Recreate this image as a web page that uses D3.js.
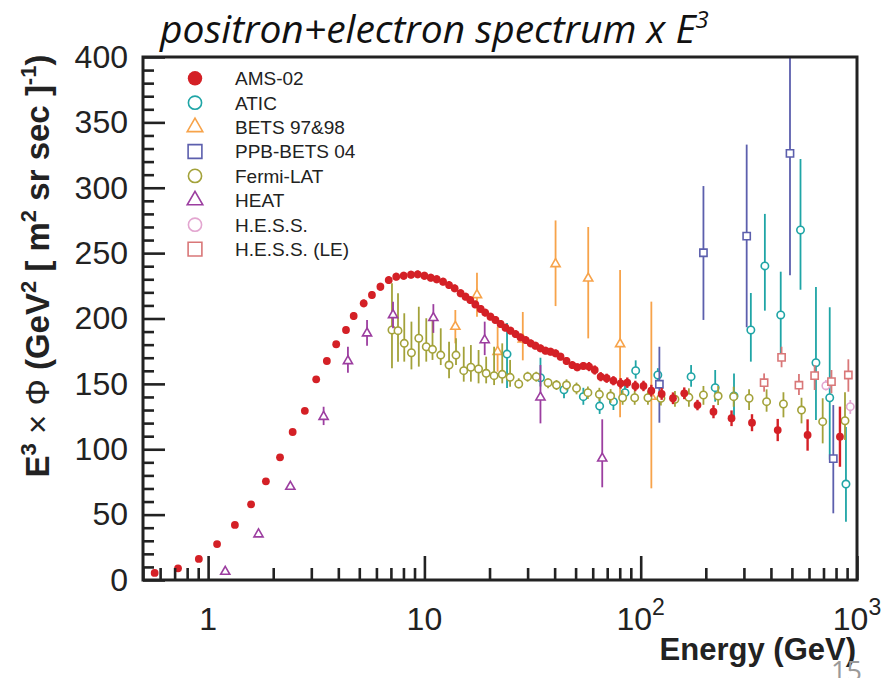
<!DOCTYPE html>
<html>
<head>
<meta charset="utf-8">
<script src="https://cdn.jsdelivr.net/npm/d3@7"></script>
<style>
  body { margin: 0; background: #fff; }
  text { font-family: "Liberation Sans", Arial, Helvetica, sans-serif; }
</style>
</head>
<body>
<svg id="chart" width="893" height="678"></svg>
<script>
// ---- data ----
// AMS-02: [energy, E^3 flux, error]
const amsData = [
  [0.566, 5.4, 0], [0.726, 8.9, 0], [0.906, 16.1, 0], [1.10, 27.5, 0], [1.33, 42.1, 0],
  [1.58, 57.9, 0], [1.85, 75.5, 1], [2.15, 93.8, 1], [2.46, 113.2, 1], [2.80, 129.4, 1.5],
  [3.16, 153.5, 2], [3.54, 167.5, 2], [3.91, 180.3, 2.5], [4.34, 191.2, 2.5], [4.71, 201.9, 3],
  [5.24, 211.6, 3], [5.72, 218, 3], [6.26, 224.3, 3], [6.84, 229.4, 3], [7.41, 232, 3],
  [8.02, 232.7, 3], [8.67, 233.5, 3], [9.31, 233.8, 3], [10.0, 232.7, 3], [10.7, 231.2, 3],
  [11.4, 230, 3], [12.2, 228.2, 3], [13.0, 225.6, 3], [13.8, 223.1, 3], [14.7, 219.3, 3],
  [15.5, 216.7, 3], [16.3, 214.1, 3], [17.2, 210.8, 3], [18.2, 207.3, 3], [19.1, 204.5, 3],
  [20.2, 201.4, 3], [21.3, 198.9, 3], [22.5, 195.8, 3], [23.7, 193, 3], [25.0, 190.7, 3],
  [26.4, 188.1, 3], [27.8, 185.6, 3], [29.4, 183.5, 3], [31.0, 181, 3], [32.6, 179.2, 3],
  [34.4, 177.2, 3], [36.3, 175.4, 3], [38.3, 174.6, 3], [40.4, 173.4, 3], [42.6, 170.8, 3],
  [45.4, 167.5, 3], [48.3, 164.4, 3], [50.9, 162.7, 3], [54.3, 163.7, 3], [57.7, 163.2, 3.5],
  [61.3, 160.6, 3.5], [65.3, 155.5, 3.5], [69.6, 154.3, 3.5], [74.8, 152.4, 3.5], [80.8, 150.4, 4],
  [86.7, 150.9, 4], [94.4, 148.4, 4], [103, 148.4, 4], [112, 144.8, 4.5], [125, 142.3, 4.5],
  [141, 139, 4.5], [159, 142.8, 4.5], [183, 133.8, 4], [217, 128.7, 5], [263, 123.7, 6],
  [327, 120.3, 6.5], [430, 114.7, 8.5], [591, 110.9, 12], [834, 109.6, 23]
];
// other experiments: [energy, value, low, high]
const aticData = [
  [24.1, 172.8, 146.8, 196.6], [34.4, 154.7, 148, 170], [44.2, 145.5, 139, 151],
  [54.3, 140.2, 134, 147], [64.6, 133, 127, 139], [74.8, 136.4, 130, 143],
  [84.6, 143.3, 137, 150], [94.8, 160.1, 154, 168], [120, 156.8, 153, 162],
  [171, 155.5, 147.8, 164.4], [221, 147.1, 136.4, 160.6], [270, 140.7, 125, 158],
  [323, 191.2, 167, 219.5], [375, 240.2, 206, 280], [444, 202.7, 173.4, 235.8],
  [548, 267.7, 222, 322], [646, 166.2, 122.4, 224], [748, 139.4, 92, 208.6],
  [889, 73.4, 44.6, 117]
];
const betsData = [
  [13.9, 193.8, 181, 206.5], [17.5, 218, 201.4, 235], [21.8, 174.6, 159.3, 193.7],
  [28.5, 184, 168, 205], [40.4, 241.7, 209.5, 275], [57.2, 230.7, 184.8, 270],
  [80.3, 180.5, 124.4, 237], [112, 140.2, 70.1, 212.9]
];
const ppbData = [
  [122, 149.7, 120.3, 178.4], [195, 250.3, 198.9, 301.3], [309, 263, 193.3, 333],
  [490, 326.3, 233, 410], [777, 92.8, 51, 133.8]
];
const fermiData = [
  [7.08, 191.2, 161.9, 226.9], [7.55, 190.7, 167, 219.3], [8.07, 181, 167, 204],
  [8.71, 173.8, 161.1, 197.6], [9.42, 184.9, 163.2, 209], [10.2, 178.4, 167, 200.2],
  [10.9, 176.4, 168.3, 202.7], [11.9, 172, 164.4, 192.5], [13.0, 164.4, 154.3, 182.3],
  [14.0, 172, 164.4, 184.9], [15.2, 160.1, 151.7, 178.4], [16.4, 162.7, 151.7, 179.7],
  [17.8, 161.4, 150.4, 175.9], [19.3, 158.1, 150.4, 170.8], [21.0, 156.3, 149.1, 178.4],
  [22.9, 157.3, 150.4, 181], [24.9, 155, 147.8, 168.3], [27.3, 149.9, 146.6, 154.3],
  [30.0, 155.5, 151.7, 159.3], [32.9, 155.5, 151.7, 159.3], [37.3, 150.9, 146.6, 154.3],
  [40.8, 149.1, 145.3, 152.9], [45.4, 149.1, 145, 153.5], [50.5, 146.6, 142, 151],
  [57, 143.3, 138.5, 148], [64.4, 142, 137, 147], [72.6, 140.7, 135.5, 146],
  [82.5, 139.4, 134, 145], [93.8, 139.4, 134, 145], [108, 139.4, 134, 145],
  [124, 139, 133.5, 145], [144, 138.2, 132.5, 144.5], [167, 139.7, 132.5, 146.6],
  [195, 141.5, 134, 148.4], [228, 140.7, 133.8, 148.4], [269, 140.2, 132.5, 147.8],
  [317, 139, 130, 145.8], [382, 136.4, 128.7, 145.8], [457, 134.6, 124.4, 143.6],
  [554, 130, 119.8, 139.4], [694, 121.1, 104.5, 139], [880, 121.8, 107, 143.6]
];
const heatData = [
  [1.2, 6.4, 5, 8], [1.71, 35, 33, 37], [2.4, 71.4, 69, 74], [3.42, 124.9, 118.5, 132.5],
  [4.43, 167.5, 158.5, 178.4], [5.43, 188.7, 179.2, 198.9], [7.16, 202.7, 192.5, 212.9],
  [11.0, 200.5, 189, 211], [19.0, 183.5, 172, 197.6], [34.4, 139.7, 119.8, 164.4],
  [66.4, 93, 70.9, 122.9]
];
const hessData = [
  [718, 148.6, 145, 153], [931, 132.6, 127, 137.7]
];
const hessLeData = [
  [372, 150.9, 144, 158], [448, 170.3, 162.7, 178.4], [539, 149, 141.5, 157.6],
  [637, 156.3, 145.3, 164.4], [762, 151.7, 142.8, 160.6], [912, 156.8, 144, 168.8]
];

const legendNames = ["AMS-02", "ATIC", "BETS 97&98", "PPB-BETS 04", "Fermi-LAT", "HEAT", "H.E.S.S.", "H.E.S.S. (LE)"];
const yTickValues = [0, 50, 100, 150, 200, 250, 300, 350, 400];
const xTickLabels = [
  { v: 1, base: "1", exp: "" },
  { v: 10, base: "10", exp: "" },
  { v: 100, base: "10", exp: "2" },
  { v: 1000, base: "10", exp: "3" }
];

// ---- chart ----
let chart = d3.select("#chart");
let plotLeft = 143, plotRight = 857, plotTop = 57, plotBottom = 580;
let ink = "#222";

let x = d3.scaleLog().domain([0.5, 1000]).range([plotLeft, plotRight]);
let y = d3.scaleLinear().domain([0, 400]).range([plotBottom, plotTop]);

// series styles (same order as legend)
let series = [
  { name: legendNames[0], data: amsData, color: "#d42026", shape: "dot" },
  { name: legendNames[1], data: aticData, color: "#1fa5a6", shape: "circle" },
  { name: legendNames[2], data: betsData, color: "#f7a34a", shape: "triangle" },
  { name: legendNames[3], data: ppbData, color: "#5c5fad", shape: "square" },
  { name: legendNames[4], data: fermiData, color: "#a3a23a", shape: "circle" },
  { name: legendNames[5], data: heatData, color: "#9c3ea0", shape: "triangle" },
  { name: legendNames[6], data: hessData, color: "#e3a6d0", shape: "circle" },
  { name: legendNames[7], data: hessLeData, color: "#d97778", shape: "square" }
];

chart.append("defs").append("clipPath").attr("id", "plotclip")
  .append("rect")
  .attr("x", plotLeft).attr("y", plotTop)
  .attr("width", plotRight - plotLeft).attr("height", plotBottom - plotTop);

function symbolPath(shape, big) {
  if (shape === "triangle") return d3.symbol(d3.symbolTriangle, big ? 105 : 36)();
  if (shape === "square") return d3.symbol(d3.symbolSquare, big ? 190 : 52)();
  return null;
}

function drawMarker(g, shape, color, big) {
  if (shape === "dot") {
    g.append("circle").attr("r", big ? 7.2 : 3.9).attr("fill", color);
  } else if (shape === "circle") {
    g.append("circle").attr("r", big ? 6.6 : 3.7)
      .attr("fill", "#fff").attr("stroke", color).attr("stroke-width", 1.6);
  } else {
    g.append("path").attr("d", symbolPath(shape, big))
      .attr("fill", "#fff").attr("stroke", color).attr("stroke-width", 1.6);
  }
}

let plot = chart.append("g").attr("clip-path", "url(#plotclip)");

// draw order: others first, AMS-02 on top
let drawOrder = [1, 2, 3, 4, 5, 6, 7, 0];
drawOrder.forEach(i => {
  let s = series[i];
  let g = plot.append("g");
  let isAms = s.shape === "dot";
  g.selectAll("line.err")
    .data(s.data)
    .enter().append("line")
    .attr("class", "err")
    .attr("x1", d => x(d[0]))
    .attr("x2", d => x(d[0]))
    .attr("y1", d => isAms ? y(d[1] - d[2]) : y(d[2]))
    .attr("y2", d => isAms ? y(d[1] + d[2]) : y(d[3]))
    .attr("stroke", s.color)
    .attr("stroke-width", isAms ? 2.4 : 1.8);
  g.selectAll("g.pt")
    .data(s.data)
    .enter().append("g")
    .attr("class", "pt")
    .attr("transform", d => "translate(" + x(d[0]) + "," + y(d[1]) + ")")
    .each(function () { drawMarker(d3.select(this), s.shape, s.color, false); });
});

// frame
chart.append("rect")
  .attr("x", plotLeft).attr("y", plotTop)
  .attr("width", plotRight - plotLeft).attr("height", plotBottom - plotTop)
  .attr("fill", "none").attr("stroke", ink).attr("stroke-width", 3);

// y axis, ticks inward
let yMinor = d3.range(0, 401, 10).filter(v => v % 50 !== 0);
let yAxis = d3.axisLeft(y).tickValues(yTickValues).tickSize(-22).tickPadding(15).tickFormat(d3.format("d"));
let yAxisGroup = chart.append("g").attr("transform", "translate(" + plotLeft + ",0)").call(yAxis);
chart.append("g").attr("transform", "translate(" + plotLeft + ",0)")
  .call(d3.axisLeft(y).tickValues(yMinor).tickSize(-11).tickFormat(""));

// x axis, ticks inward
let xMinor = [];
[0.1, 1, 10, 100].forEach(dec => {
  for (let k = 2; k <= 9; k++) {
    let v = dec * k;
    if (v >= 0.5 && v < 1000) xMinor.push(v);
  }
});
let xAxis = d3.axisBottom(x).tickValues(xTickLabels.map(d => d.v)).tickSize(-24).tickFormat("");
chart.append("g").attr("transform", "translate(0," + plotBottom + ")").call(xAxis);
chart.append("g").attr("transform", "translate(0," + plotBottom + ")")
  .call(d3.axisBottom(x).tickValues(xMinor).tickSize(-12).tickFormat(""));

chart.selectAll(".domain").remove();
chart.selectAll(".tick line").attr("stroke", ink).attr("stroke-width", 2.6);
yAxisGroup.selectAll("text")
  .attr("fill", ink)
  .style("font-size", "32px");

// x tick labels with exponents
let xl = chart.selectAll("text.xlab")
  .data(xTickLabels)
  .enter().append("text")
  .attr("class", "xlab")
  .attr("x", d => x(d.v))
  .attr("y", 630)
  .attr("text-anchor", "middle")
  .attr("fill", ink)
  .style("font-size", "32px");
xl.append("tspan").text(d => d.base);
xl.filter(d => d.exp !== "").append("tspan")
  .attr("dy", -15).style("font-size", "23px").text(d => d.exp);

// x axis label
chart.append("text")
  .text("Energy (GeV)")
  .attr("x", 856)
  .attr("y", 660)
  .attr("text-anchor", "end")
  .attr("font-weight", 700)
  .attr("fill", ink)
  .style("font-size", "31px");

// y axis label
let yl = chart.append("text")
  .attr("transform", "translate(49," + 266 + ") rotate(-90)")
  .attr("text-anchor", "middle")
  .attr("font-weight", 700)
  .attr("fill", ink)
  .style("font-size", "33px");
yl.append("tspan").text("E");
yl.append("tspan").attr("dy", -13).style("font-size", "22px").text("3");
yl.append("tspan").attr("dy", 13).attr("font-weight", 400).text(" \u00d7 \u03a6 ");
yl.append("tspan").text("(GeV");
yl.append("tspan").attr("dy", -13).style("font-size", "22px").text("2");
yl.append("tspan").attr("dy", 13).text(" [ m");
yl.append("tspan").attr("dy", -13).style("font-size", "22px").text("2");
yl.append("tspan").attr("dy", 13).text(" sr sec ]");
yl.append("tspan").attr("dy", -13).style("font-size", "22px").text("-1");
yl.append("tspan").attr("dy", 13).text(")");

// legend
let legend = chart.append("g");
series.forEach((s, i) => {
  let ly = 78.3 + i * 24.4;
  let mg = legend.append("g").attr("transform", "translate(195," + ly + ")");
  drawMarker(mg, s.shape, s.color, true);
  legend.append("text")
    .text(s.name)
    .attr("x", 235)
    .attr("y", ly)
    .attr("dy", "0.36em")
    .attr("fill", ink)
    .style("font-size", "19px");
});

// title
let title = chart.append("text")
  .attr("x", 160)
  .attr("y", 43)
  .attr("fill", "#111")
  .style("font-family", "'Open Sans', 'Noto Sans', sans-serif")
  .style("font-style", "italic")
  .style("font-size", "39px");
title.append("tspan").text("positron+electron spectrum x E");
title.append("tspan").attr("dy", -15).style("font-size", "24px").text("3");

// page number
chart.append("text")
  .text("15")
  .attr("x", 862)
  .attr("y", 681)
  .attr("text-anchor", "end")
  .attr("fill", "#9a9a9a")
  .style("font-family", "'Open Sans', 'Noto Sans', sans-serif")
  .style("font-size", "27px");
</script>
</body>
</html>
